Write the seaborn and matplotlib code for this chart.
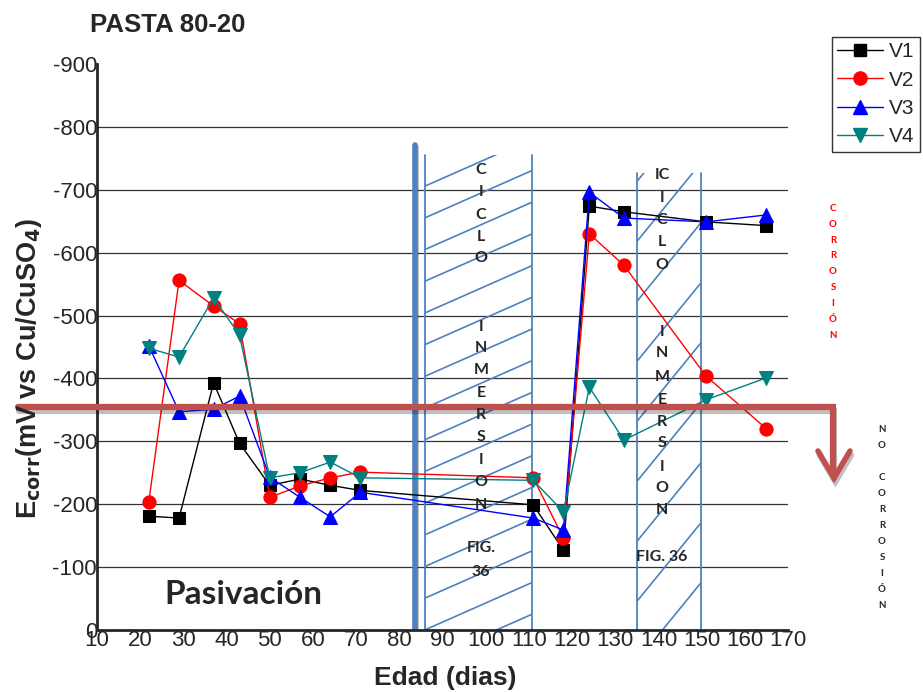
import numpy as np
import pandas as pd
import matplotlib
matplotlib.use('Agg')
import matplotlib.pyplot as plt
import matplotlib.patheffects as pe
from matplotlib.lines import Line2D
from matplotlib.patches import Rectangle
import seaborn as sns

# data (Edad in dias, Ecorr in mV vs Cu/CuSO4)
edad = [22, 29, 37, 43, 50, 57, 64, 71, 111, 118, 124, 132, 151, 165]
v1 = [-181, -178, -393, -297, -230, -240, -230, -222, -199, -127, -674, -665, -649, -643]
v2 = [-204, -556, -515, -487, -211, -229, -242, -251, -242, -146, -630, -580, -404, -320]
v3 = [-452, -347, -351, -372, -243, -211, -180, -219, -178, -159, -696, -655, -649, -660]
v4 = [-448, -434, -528, -469, -242, -250, -267, -242, -238, -188, -386, -302, -366, -401]
series_names = ['V1', 'V2', 'V3', 'V4']
yticks = [0, -100, -200, -300, -400, -500, -600, -700, -800, -900]
xticks = list(range(10, 171, 10))

df = pd.DataFrame({'Edad': edad * 4,
                   'Ecorr': v1 + v2 + v3 + v4,
                   'Serie': sum([[s] * len(edad) for s in series_names], [])})

sns.set_style('white')
plt.rcParams['font.family'] = ['Liberation Sans', 'DejaVu Sans']

W, H = 923, 692
fig = plt.figure(figsize=(W / 100, H / 100), dpi=100)
ax = fig.add_axes([97 / W, 1 - 630 / H, (788 - 97) / W, (630 - 64) / H])


def fpx(x, y):
    return x / W, 1 - y / H


styles = {'V1': ('black', 's', 8.5),
          'V2': ('red', 'o', 9.5),
          'V3': ('blue', '^', 10),
          'V4': ('#008080', 'v', 10)}

# hatched boxes (ciclo de inmersion)
box_col = '#4F81BD'
for (x0, x1, ytop, dxp, dyp, gap) in [(86, 110.8, -755, 106, 47, 31.7), (135, 149.8, -727, 65, 80, 60)]:
    rect = Rectangle((x0, 0), x1 - x0, ytop, transform=ax.transData, fill=False, lw=0)
    ax.add_patch(rect)
    slope = (dyp / 0.629) / (dxp / 4.306)
    for k in range(-5, 30):
        ys = -k * gap / 0.629 + 50
        ln, = ax.plot([x0, x1], [ys, ys - slope * (x1 - x0)], color=box_col, lw=1.2, zorder=1)
        ln.set_clip_path(rect)
    ax.plot([x0, x0], [0, ytop], color=box_col, lw=1.3, zorder=1)
    ax.plot([x1, x1], [0, ytop], color=box_col, lw=1.3, zorder=1)

ax.plot([83.6, 83.6], [0, -771], color=box_col, lw=4, zorder=1,
        path_effects=[pe.SimpleLineShadow(offset=(1, -1), alpha=0.3), pe.Normal()])

for name in series_names:
    c, m, ms = styles[name]
    sns.lineplot(data=df[df['Serie'] == name], x='Edad', y='Ecorr', ax=ax, color=c,
                 marker=m, markersize=ms, markeredgecolor=c, lw=1, sort=False,
                 label=name, legend=False, zorder=3)

ax.set_xlim(10, 170)
ax.set_ylim(0, -900)
ax.set_xticks(xticks)
ax.set_yticks(yticks)
ax.set_yticklabels([str(t) for t in yticks])
ax.tick_params(labelsize=16, length=0, pad=0)
for t in [-100, -200, -300, -400, -500, -600, -700, -800]:
    ax.axhline(t, color='#333333', lw=0.9, zorder=0)
ax.spines['top'].set_visible(False)
ax.spines['right'].set_visible(False)
ax.spines['left'].set_linewidth(2)
ax.spines['bottom'].set_linewidth(2)
ax.set_xlabel('')
ax.set_ylabel('')

# texts
fig.text(*fpx(90, 25), 'PASTA 80-20', ha='left', va='center', fontsize=18.5,
         fontweight='bold')
fig.text(*fpx(445, 678), 'Edad (dias)', ha='center', va='center', fontsize=19,
         fontweight='bold')
fig.text(*fpx(29, 368), r'E$_{\mathbf{corr}}$(mV vs Cu/CuSO$_{\mathbf{4}}$)', rotation=90,
         ha='center', va='center', fontsize=19.5, fontweight='bold')
fig.text(*fpx(243, 595), 'Pasivación', ha='center', va='center', fontsize=24,
         fontweight='bold', family=['Lato', 'DejaVu Sans'])

lbl = dict(ha='center', va='center', fontsize=11.5, fontweight='bold', family=['Lato', 'DejaVu Sans'])
for ch, y in zip('CICLO', [170, 192, 215, 237, 258]):
    fig.text(*fpx(481, y), ch, **lbl)
for ch, y in zip('INMERSION', [327, 348, 370, 393, 415, 437, 460, 482, 505]):
    fig.text(*fpx(481, y), ch, **lbl)
fig.text(*fpx(481, 548), 'FIG.', **lbl)
fig.text(*fpx(481, 572), '36', **lbl)
for ch, y in zip(['IC', 'I', 'C', 'L', 'O'], [175, 198, 220, 242, 265]):
    fig.text(*fpx(662, y), ch, **lbl)
for ch, y in zip('INMERSION', [332, 353, 377, 400, 422, 443, 467, 488, 510]):
    fig.text(*fpx(662, y), ch, **lbl)
fig.text(*fpx(662, 557), 'FIG. 36', **lbl)

small = dict(ha='center', va='center', fontsize=7, fontweight='bold', family=['Lato', 'DejaVu Sans'])
for i, ch in enumerate('CORROSIÓN'):
    fig.text(*fpx(833, 208 + i * 16), ch, color='red', **small)
for ch, y in zip('NO', [430, 446]):
    fig.text(*fpx(882, y), ch, **small)
for i, ch in enumerate('CORROSIÓN'):
    fig.text(*fpx(882, 478 + i * 16), ch, **small)

# red threshold arrow
arrow_c = '#C0504D'
shadow = [pe.SimpleLineShadow(offset=(1, -3), alpha=0.25), pe.Normal()]
xs, ys = zip(fpx(18, 407), fpx(833, 407), fpx(833, 474))
fig.add_artist(Line2D(xs, ys, color=arrow_c, lw=4.5, solid_joinstyle='miter',
                      transform=fig.transFigure, path_effects=shadow))
xs, ys = zip(fpx(818, 451), fpx(834, 478), fpx(850, 451))
fig.add_artist(Line2D(xs, ys, color=arrow_c, lw=4, solid_joinstyle='miter',
                      solid_capstyle='round', transform=fig.transFigure, path_effects=shadow))

# legend
handles = [Line2D([], [], color=styles[n][0], marker=styles[n][1], markersize=styles[n][2],
                  lw=1) for n in series_names]
leg = fig.legend(handles, series_names, loc='upper left', bbox_to_anchor=fpx(832, 37),
                 fontsize=15, frameon=True, fancybox=False, edgecolor='black',
                 borderaxespad=0, handlelength=2.2, labelspacing=0.45,
                 borderpad=0.25, handletextpad=0.3)
leg.get_frame().set_linewidth(1)

fig.savefig('out.png', dpi=100)
